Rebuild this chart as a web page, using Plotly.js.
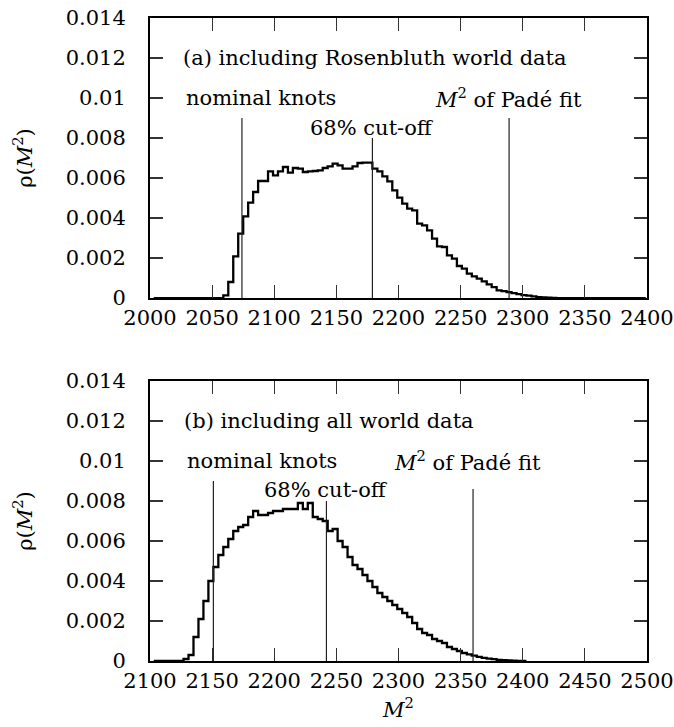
<!DOCTYPE html>
<html><head><meta charset="utf-8">
<script src="https://cdn.plot.ly/plotly-3.0.1.min.js"></script>
<style>html,body{margin:0;padding:0;background:#fff;} #chart{width:674px;height:727px;}</style>
</head><body><div id="chart"></div>
<script>
// ---- data ----
const binWidth = 4;
// panel (a): bins start at 2003, width 4
const binStartA = 2003;
const densityA = [
  0,0,0,0,0,0,0,0,0,0,0,0,0,0,
  0.00013,0.0008,0.00208,0.00322,0.00408,0.00477,0.0053,0.00585,0.00585,0.00633,
  0.00613,0.00633,0.00655,0.00627,0.0065,0.00647,0.0063,0.00633,0.00635,0.00638,
  0.0065,0.00658,0.00672,0.00663,0.00647,0.00647,0.00658,0.00675,0.00677,0.00677,
  0.00647,0.00633,0.00608,0.00583,0.00538,0.00502,0.00472,0.00447,0.00438,0.00372,
  0.00363,0.00338,0.00297,0.00258,0.00255,0.00213,0.00197,0.0016,0.00147,0.00122,
  0.00108,0.00097,0.00083,0.00068,0.00055,0.00038,0.00035,0.0003,0.00025,0.0002,
  0.00015,0.00012,0.00008,0.00005,0.00003,0.00002,0.00001,
  0,0,0,0,0,0,0,0,0,0,0,0,0,0,0,0,0,0
];
// panel (b): bins start at 2103, width 4
const binStartB = 2103;
const densityB = [
  0,0,0,0,0,0,
  0.0001,0.0003,0.0012,0.0021,0.0030,0.0040,0.0047,0.0053,0.0057,0.0061,
  0.0065,0.0067,0.0068,0.0072,0.0075,0.0073,0.0073,0.0074,0.0075,0.0075,
  0.0076,0.0076,0.0076,0.0079,0.0076,0.0079,0.0072,0.0071,0.0070,0.0065,
  0.0066,0.0060,0.0057,0.0052,0.0048,0.0046,0.0043,0.0040,0.0037,0.0034,
  0.0032,0.0030,0.0028,0.0026,0.0024,0.0022,0.0019,0.0016,0.0014,0.0013,
  0.0011,0.0010,0.0009,0.0007,0.0006,0.0005,0.0004,0.00033,0.00027,0.00021,
  0.00016,0.00012,0.00009,0.00006,0.00004,0.00003,0.00002,0.00001,0
];
// vertical markers: nominal knots, 68% cut-off, M^2 of Pade fit
const markersA = [2074, 2179, 2289];
const markersB = [2151, 2242, 2360];
const markerTopsA = [0.009, 0.008, 0.009];
const markerTopsB = [0.009, 0.008, 0.0086];

const yTickVals = [0,0.002,0.004,0.006,0.008,0.01,0.012,0.014];
const yTickText = ['0','0.002','0.004','0.006','0.008','0.01','0.012','0.014'];
const xTickValsA = [2000,2050,2100,2150,2200,2250,2300,2350,2400];
const xTickValsB = [2100,2150,2200,2250,2300,2350,2400,2450,2500];
const panelLabels = ['(a) including Rosenbluth world data','(b) including all world data'];
const markerLabels = ['nominal knots','68% cut-off','<i>M</i><sup>2</sup> of Padé fit'];

// ---- build ----
function steps(start, vals){
  const x = vals.map((_, i) => start + i*binWidth);
  const y = vals.slice();
  x.push(start + vals.length*binWidth); y.push(vals[vals.length-1]);
  return {x, y};
}
const sA = steps(binStartA, densityA), sB = steps(binStartB, densityB);
const FONT = '"DejaVu Serif", "Liberation Serif", serif';
const fs = 21;

const traces = [
  {x:sA.x, y:sA.y, xaxis:'x', yaxis:'y', mode:'lines', line:{shape:'hv', color:'#000', width:2.3}, hoverinfo:'skip', cliponaxis:true},
  {x:sB.x, y:sB.y, xaxis:'x2', yaxis:'y2', mode:'lines', line:{shape:'hv', color:'#000', width:2.3}, hoverinfo:'skip', cliponaxis:true}
];

const shapes = [];
markersA.forEach((m,i)=>shapes.push({type:'line', xref:'x', yref:'y', x0:m, x1:m, y0:0, y1:markerTopsA[i], line:{color:'#222', width:1.2}}));
markersB.forEach((m,i)=>shapes.push({type:'line', xref:'x2', yref:'y2', x0:m, x1:m, y0:0, y1:markerTopsB[i], line:{color:'#222', width:1.2}}));

function ann(xr, yr, x, y, text, anchor){
  return {xref:xr, yref:yr, x:x, y:y, text:text, showarrow:false, xanchor:anchor, yanchor:'middle', font:{family:FONT, size:fs, color:'#000'}};
}
const annotations = [
  ann('x','y',2025,0.012,panelLabels[0],'left'),
  ann('x','y',2027.5,0.01,markerLabels[0],'left'),
  ann('x','y',markersA[1],0.0085,markerLabels[1],'center'),
  ann('x','y',2228,0.01,markerLabels[2],'left'),
  ann('x2','y2',2126,0.012,panelLabels[1],'left'),
  ann('x2','y2',2128,0.01,markerLabels[0],'left'),
  ann('x2','y2',markersB[1],0.00855,markerLabels[1],'center'),
  ann('x2','y2',2295,0.01,markerLabels[2],'left')
];

const baseAxis = {
  showline:true, linecolor:'#000', linewidth:2, mirror:'ticks',
  ticks:'inside', ticklen:13, tickwidth:1.2, tickcolor:'#333',
  showgrid:false, zeroline:false, fixedrange:true,
  tickfont:{family:FONT, size:fs, color:'#000'}
};
const yTitle = {text:'ρ(<i>M</i><sup>2</sup>)', font:{family:FONT, size:fs, color:'#000'}, standoff:27};

const layout = {
  width:674, height:727,
  margin:{l:150, r:27, t:18, b:66},
  paper_bgcolor:'#fff', plot_bgcolor:'#fff',
  showlegend:false,
  xaxis:Object.assign({}, baseAxis, {anchor:'y', domain:[0,1], range:[2000,2400], tickvals:xTickValsA, ticktext:xTickValsA.map(String), ticklabelstandoff:0}),
  yaxis:Object.assign({}, baseAxis, {anchor:'x', domain:[0.5645,1], range:[0,0.014], tickvals:yTickVals, ticktext:yTickText, ticklabelstandoff:18, title:yTitle}),
  xaxis2:Object.assign({}, baseAxis, {anchor:'y2', domain:[0,1], range:[2100,2500], tickvals:xTickValsB, ticktext:xTickValsB.map(String), ticklabelstandoff:0,
    title:{text:'<i>M</i><sup>2</sup>', font:{family:FONT, size:fs, color:'#000'}, standoff:10}}),
  yaxis2:Object.assign({}, baseAxis, {anchor:'x2', domain:[0,0.4355], range:[0,0.014], tickvals:yTickVals, ticktext:yTickText, ticklabelstandoff:18, title:yTitle}),
  shapes:shapes,
  annotations:annotations
};
Plotly.newPlot('chart', traces, layout, {displayModeBar:false, staticPlot:true});
</script>
</body></html>
